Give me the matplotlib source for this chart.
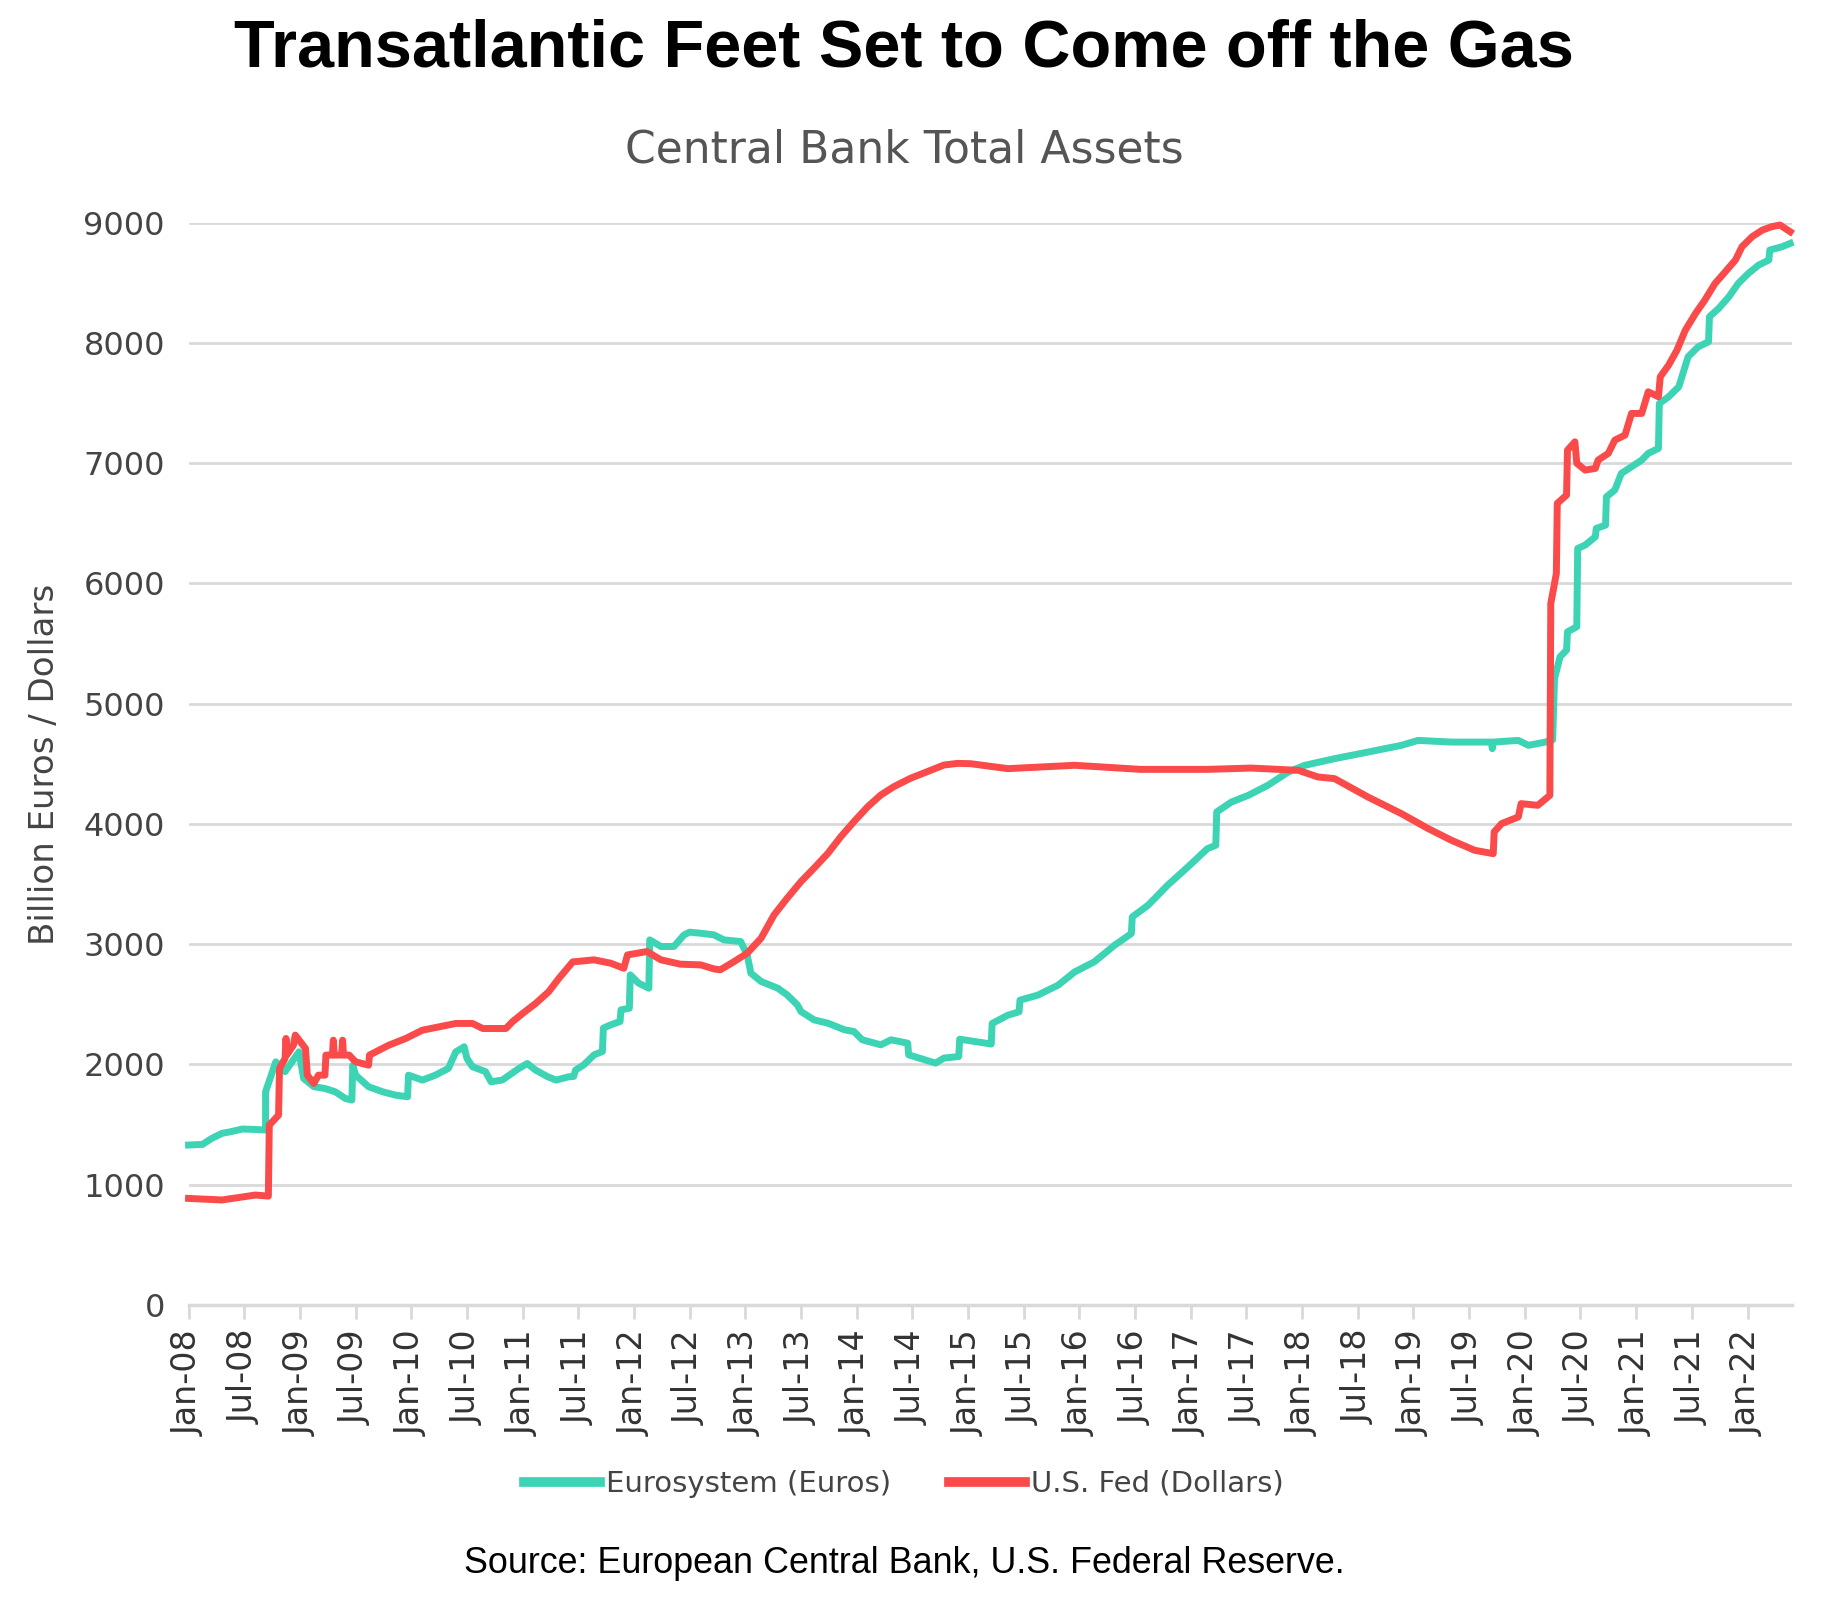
import matplotlib
matplotlib.use("Agg")
import matplotlib.pyplot as plt

# months since Jan 2008 and total assets (billion euros)
euro_month = [0.0, 1.5, 2.5, 3.6, 4.5, 5.8, 7.0, 8.3, 8.3, 9.4, 10.0, 10.4, 11.9, 12.4, 13.5,
              14.7, 15.8, 16.9, 17.6, 17.7, 18.0, 19.4, 20.9, 22.3, 23.6, 23.7, 25.2, 26.6,
              28.0, 28.8, 29.7, 30.0, 30.6, 32.0, 32.6, 33.8, 35.6, 36.5, 37.4, 38.7, 39.6,
              41.0, 41.5, 41.7, 42.6, 43.7, 44.6, 44.7, 45.5, 46.5, 46.6, 47.5, 47.6, 48.5,
              49.6, 49.7, 50.9, 52.3, 53.4, 54.0, 55.2, 56.6, 57.7, 59.5, 60.2, 60.6, 61.7,
              63.5, 64.5, 65.6, 66.0, 67.4, 68.9, 70.7, 71.7, 72.6, 74.6, 75.7, 77.5, 77.6,
              79.3, 80.5, 81.4, 83.0, 83.1, 86.5, 86.6, 88.3, 89.5, 89.6, 91.5, 93.7, 95.5,
              97.6, 99.8, 101.6, 101.7, 103.4, 105.5, 107.7, 109.8, 110.7, 110.8, 112.4,
              114.2, 116.3, 118.5, 120.3, 123.5, 127.1, 130.7, 132.5, 136.1, 140.4, 140.5,
              140.6, 143.3, 144.4, 146.2, 147.0, 147.2, 147.8, 148.5, 148.6, 149.6, 149.7,
              150.5, 151.6, 151.7, 152.7, 152.8, 153.7, 154.4, 155.5, 156.6, 157.3, 158.4,
              158.5, 159.5, 160.6, 161.6, 162.7, 163.8, 163.9, 164.9, 166.0, 167.0, 168.1,
              169.2, 170.3, 170.4, 171.7, 172.6]
euro_bn = [1330, 1335, 1385, 1427, 1440, 1463, 1460, 1455, 1773, 2022, 1980, 1940, 2105, 1884, 1815,
           1800, 1773, 1717, 1704, 1994, 1911, 1815, 1773, 1745, 1731, 1911, 1870, 1911,
           1967, 2105, 2147, 2050, 1981, 1940, 1856, 1870, 1967, 2008, 1953, 1898, 1870,
           1898, 1900, 1953, 1997, 2080, 2108, 2302, 2330, 2357, 2454, 2468, 2745, 2676,
           2634, 3036, 2981, 2981, 3078, 3100, 3091, 3078, 3036, 3022, 2911, 2759, 2690,
           2634, 2579, 2496, 2440, 2371, 2343, 2288, 2274, 2205, 2163, 2205, 2177, 2080,
           2039, 2011, 2053, 2066, 2210, 2170, 2341, 2410, 2438, 2535, 2576, 2659, 2770,
           2853, 2992, 3089, 3227, 3324, 3490, 3643, 3795, 3823, 4100, 4183,
           4238, 4321, 4432, 4488, 4543, 4598, 4654, 4695, 4681, 4681, 4626,
           4681, 4695, 4654, 4681, 4700, 5208, 5390, 5446, 5598, 5640, 6291,
           6319, 6388, 6458, 6485, 6721, 6777, 6915, 6970, 7026, 7082, 7123,
           7497, 7553, 7636, 7886, 7969, 8010, 8218, 8288, 8385, 8495, 8579,
           8648, 8690, 8773, 8800, 8828]

# months since Jan 2008 and total assets (billion dollars)
fed_month = [0.0, 3.6, 7.2, 8.6, 8.7, 9.7, 9.8, 10.4, 10.5, 10.6, 11.3, 11.5, 12.6, 12.8, 13.5,
             14.0, 14.7, 14.8, 15.5, 15.6, 15.7, 16.5, 16.6, 16.7, 17.3, 18.0, 19.4, 19.5,
             21.6, 23.4, 25.2, 27.0, 28.8, 30.6, 31.7, 34.2, 34.9, 36.0, 37.4, 38.8, 39.9,
             41.4, 43.7, 45.5, 46.9, 47.3, 49.4, 50.9, 53.0, 55.2, 56.6, 57.3, 58.8, 60.2,
             61.7, 63.1, 64.5, 66.0, 67.4, 68.9, 70.3, 71.7, 73.2, 74.6, 76.0, 77.8, 79.6,
             81.4, 82.9, 84.3, 88.3, 95.5, 102.6, 109.8, 114.5, 119.6, 121.7, 123.5, 127.1,
             130.7, 133.6, 136.1, 138.6, 140.6, 140.7, 141.5, 143.3, 143.6, 145.4, 146.7,
             146.8, 147.4, 147.5, 148.5, 148.6, 149.4, 149.6, 150.5, 151.6, 151.9, 153.0,
             153.7, 154.8, 155.5, 156.6, 157.3, 158.4, 158.6, 159.5, 160.4, 161.3, 162.4,
             163.4, 164.5, 165.6, 166.7, 167.4, 168.5, 169.6, 170.6, 171.5, 172.6]
fed_bn = [886, 873, 914, 905, 1496, 1579, 1967, 2050, 2216, 2080, 2160, 2244, 2133, 1911, 1842,
          1911, 1911, 2078, 2078, 2202, 2078, 2078, 2202, 2078, 2078, 2022, 1994, 2078,
          2161, 2216, 2285, 2313, 2341, 2341, 2299, 2299, 2355, 2424, 2507, 2604, 2715,
          2853, 2870, 2842, 2800, 2911, 2939, 2870, 2834, 2828, 2795, 2787, 2856, 2925,
          3050, 3244, 3382, 3521, 3632, 3756, 3895, 4019, 4144, 4241, 4310, 4380, 4435,
          4490, 4504, 4501, 4460, 4488, 4454, 4454, 4465, 4446, 4391, 4377, 4224,
          4086, 3961, 3864, 3781, 3753, 3934, 4003, 4058, 4169, 4155, 4238,
          5834, 6083, 6666, 6735, 7109, 7178, 7000, 6943, 6957, 7026, 7082,
          7192, 7234, 7414, 7414, 7594, 7553, 7719, 7816, 7941, 8107, 8246,
          8357, 8495, 8592, 8690, 8800, 8884, 8939, 8967, 8981, 8925]

tick_months = list(range(0, 169, 6))
tick_labels = ["Jan-08", "Jul-08", "Jan-09", "Jul-09", "Jan-10", "Jul-10", "Jan-11", "Jul-11",
               "Jan-12", "Jul-12", "Jan-13", "Jul-13", "Jan-14", "Jul-14", "Jan-15", "Jul-15",
               "Jan-16", "Jul-16", "Jan-17", "Jul-17", "Jan-18", "Jul-18", "Jan-19", "Jul-19",
               "Jan-20", "Jul-20", "Jan-21", "Jul-21", "Jan-22"]
y_ticks = [0, 1000, 2000, 3000, 4000, 5000, 6000, 7000, 8000, 9000]

GREEN = "#3cd4b4"
RED = "#fa4a4a"
GRID = "#d9d9d9"
NARROW = ["Liberation Sans", "DejaVu Sans"]

fig = plt.figure(figsize=(18.45, 15.99), dpi=100)
ax = fig.add_axes([0.1022, 0.1839, 0.8691, 0.6768])

ax.plot(euro_month, euro_bn, color=GREEN, lw=5, solid_joinstyle="round",
        label="Eurosystem (Euros)", clip_on=False, zorder=3)
ax.plot(fed_month, fed_bn, color=RED, lw=5, solid_joinstyle="round",
        label="U.S. Fed (Dollars)", clip_on=False, zorder=4)

ax.set_xlim(0, 172.8)
ax.set_ylim(0, 9000)
ax.set_yticks(y_ticks)
ax.set_xticks(tick_months)
ax.set_xticklabels(tick_labels, rotation=90, fontsize=24, color="#333333")
ax.tick_params(axis="y", length=0, labelsize=23, labelcolor="#444444", pad=17)
ax.tick_params(axis="x", length=10, width=2, color=GRID, pad=8)
ax.yaxis.grid(True, color=GRID, lw=2)
ax.set_axisbelow(True)
for side in ["top", "right", "left"]:
    ax.spines[side].set_visible(False)
ax.spines["bottom"].set_color(GRID)
ax.spines["bottom"].set_linewidth(2.5)

fig.text(0.024, 0.522, "Billion Euros / Dollars", rotation=90, ha="center", va="center",
         fontsize=24.5, color="#444444")

fig.text(0.49, 0.969, "Transatlantic Feet Set to Come off the Gas", ha="center", va="center",
         fontsize=48, fontweight="bold", family=NARROW)
fig.text(0.49, 0.906, "Central Bank Total Assets", ha="center", va="center",
         fontsize=31.7, color="#555555")

fig.legend(loc="center", bbox_to_anchor=(0.49, 0.072), ncol=2, frameon=False,
           fontsize=21, handlelength=2.6, handletextpad=0.2, columnspacing=2.0,
           labelcolor="#444444")
for line in fig.legends[0].get_lines():
    line.set_linewidth(7)

fig.text(0.49, 0.022, "Source: European Central Bank, U.S. Federal Reserve.", ha="center",
         va="center", fontsize=25.8, color="black", family=NARROW)

fig.savefig("out.png", dpi=100)
